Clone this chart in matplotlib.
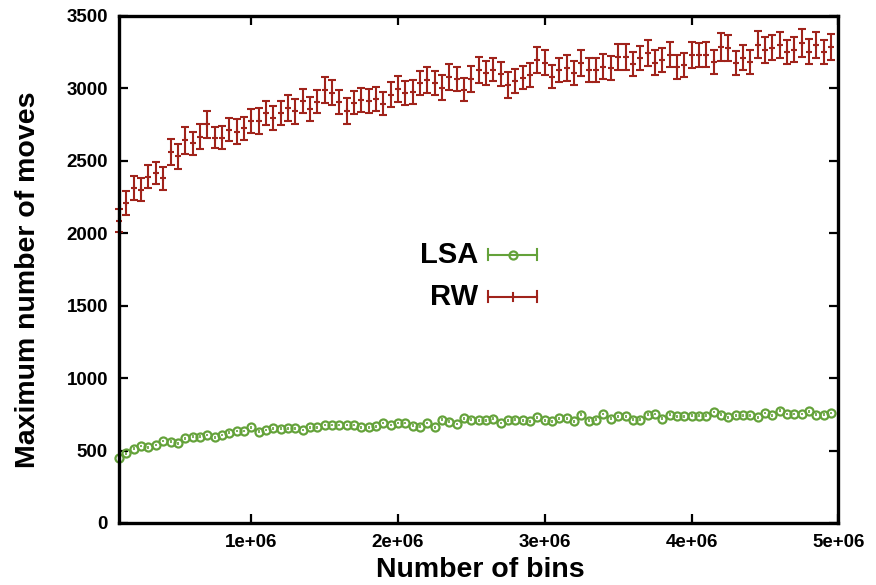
#!/usr/bin/env python3
"""Maximum number of moves vs number of bins, LSA and RW with error bars."""
import numpy as np
import matplotlib
matplotlib.use('Agg')
import matplotlib.pyplot as plt
from matplotlib.lines import Line2D

# bins: 1e5 .. 4.95e6 in steps of 5e4
bins = np.arange(100000, 4950001, 50000)

rw_mean = [
    2085, 2210, 2310, 2300, 2390, 2415, 2380, 2560, 2530, 2640, 2620, 2665, 2750,
    2660, 2660, 2715, 2700, 2725, 2775, 2775, 2830, 2795, 2830, 2865, 2840,
    2913, 2858, 2906, 2989, 2968, 2906, 2844, 2899, 2920, 2913, 2927, 2892, 2955,
    2996, 2968, 2975, 3037, 3058, 3037, 3003, 3079, 3065, 2989, 3065, 3127,
    3106, 3127, 3099, 3024, 3051, 3072, 3092, 3196, 3175, 3079, 3127, 3141,
    3106, 3175, 3127, 3127, 3148, 3141, 3217, 3217, 3168, 3210, 3244, 3175,
    3196, 3230, 3148, 3161, 3230, 3230, 3230, 3182, 3286, 3279, 3175, 3210,
    3182, 3300, 3265, 3279, 3300, 3251, 3265, 3313, 3251, 3300, 3251, 3286,
]
rw_err = [
    80, 84, 82, 80, 78, 75, 80, 89, 85, 92, 80, 85, 92,
    75, 80, 78, 85, 80, 82, 88, 85, 80, 84, 90, 85,
    82, 85, 80, 90, 86, 82, 88, 80, 84, 82, 85, 80, 86,
    90, 85, 82, 84, 88, 82, 85, 90, 84, 80, 88, 92,
    85, 80, 84, 88, 82, 80, 85, 92, 86, 80, 84, 88,
    82, 90, 85, 84, 86, 82, 90, 88, 85, 84, 92, 86,
    84, 86, 82, 85, 88, 84, 86, 82, 98, 90, 84, 86,
    82, 92, 88, 86, 90, 84, 86, 94, 86, 90, 84, 88,
]

lsa_mean = [
    447, 481, 511, 531, 522, 538, 566, 561, 550, 585,
    596, 596, 607, 592, 607, 623, 635, 635, 660, 630,
    642, 653, 649, 653, 653, 642, 660, 660, 676, 676,
    676, 676, 676, 660, 662, 667, 690, 676, 690, 690,
    671, 665, 690, 660, 713, 699, 683, 724, 713, 708,
    708, 720, 690, 708, 713, 708, 701, 731, 708, 701,
    724, 724, 701, 747, 706, 713, 752, 720, 736, 736,
    713, 713, 747, 752, 720, 747, 736, 736, 740, 740,
    740, 766, 747, 729, 743, 743, 743, 729, 759, 743,
    775, 752, 752, 752, 771, 747, 747, 759,
]
lsa_err = [10] * len(lsa_mean)

xticks = [1000000, 2000000, 3000000, 4000000, 5000000]
xtick_labels = ['1e+06', '2e+06', '3e+06', '4e+06', '5e+06']
yticks = [0, 500, 1000, 1500, 2000, 2500, 3000, 3500]

RW_COLOR = '#a0231b'
LSA_COLOR = '#64a23a'

plt.rcParams['font.family'] = ['Liberation Sans', 'DejaVu Sans']
plt.rcParams['font.weight'] = 'bold'

fig = plt.figure(figsize=(8.76, 5.85), dpi=100)
ax = fig.add_axes([0.136, 0.106, 0.821, 0.867])

# gnuplot draws the points sitting on the border too, so no clipping
ax.errorbar(bins, rw_mean, yerr=rw_err, fmt='+', color=RW_COLOR, ms=5, mew=1.5,
            elinewidth=1.5, capsize=2.6, capthick=1.5, clip_on=False)
ax.errorbar(bins, lsa_mean, yerr=lsa_err, fmt='o', color=LSA_COLOR, ms=5.8,
            mfc='none', mew=1.6, elinewidth=1.2, capsize=0, clip_on=False)

ax.set_xlim(100000, 5000000)
ax.set_ylim(0, 3500)
ax.set_xticks(xticks)
ax.set_xticklabels(xtick_labels)
ax.set_yticks(yticks)
ax.tick_params(direction='in', length=6.5, width=1.6, labelsize=13.5, pad=8,
               top=True, right=True)
for s in ax.spines.values():
    s.set_linewidth(2.4)

ax.set_xlabel('Number of bins', fontsize=20.5, fontweight='bold')
ax.set_ylabel('Maximum number of moves', fontsize=20.5, fontweight='bold')
ax.xaxis.set_label_coords(0.502, -0.068)
ax.yaxis.set_label_coords(-0.108, 0.48)

# gnuplot style key
for label, color, marker, ypos in [('LSA', LSA_COLOR, 'o', 0.529),
                                   ('RW', RW_COLOR, '+', 0.446)]:
    ax.text(0.499, ypos, label, transform=ax.transAxes, fontsize=21,
            fontweight='bold', ha='right', va='center')
    ax.add_line(Line2D([0.513, 0.581], [ypos, ypos], transform=ax.transAxes,
                       color=color, lw=1.5))
    for xc in (0.513, 0.581):
        ax.add_line(Line2D([xc, xc], [ypos - 0.011, ypos + 0.011],
                           transform=ax.transAxes, color=color, lw=1.5))
    if marker == 'o':
        ax.add_line(Line2D([0.547], [ypos], transform=ax.transAxes, marker='o',
                           ms=5.8, mfc='none', mec=color, mew=1.6, ls='none'))
    else:
        ax.add_line(Line2D([0.547, 0.547], [ypos - 0.008, ypos + 0.008],
                           transform=ax.transAxes, color=color, lw=1.5))

fig.savefig('out.png', dpi=100)
